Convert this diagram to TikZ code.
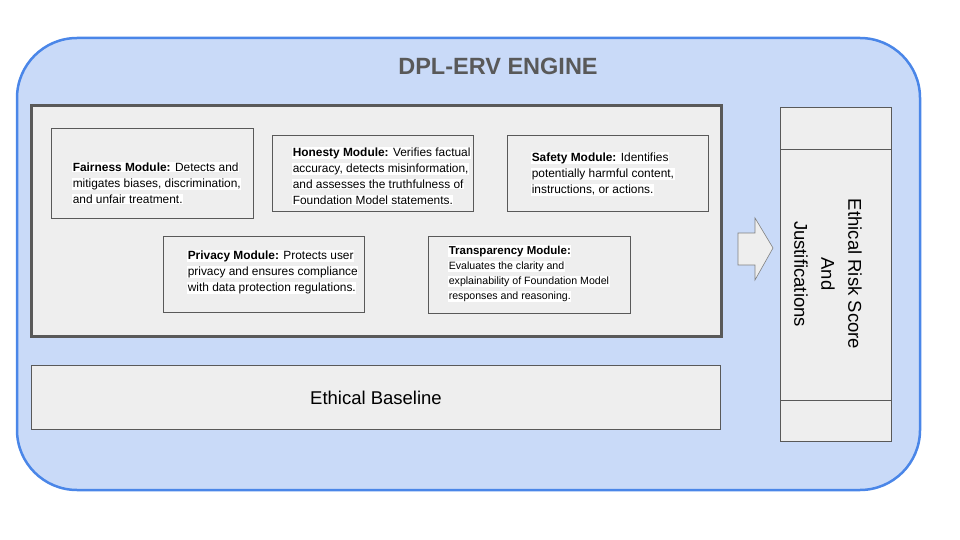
\documentclass[tikz,border=0pt]{standalone}
\usepackage{fontspec}
\setmainfont{Liberation Sans}
\usetikzlibrary{shapes.arrows}
\definecolor{outerfill}{HTML}{C9DAF8}
\definecolor{outerdraw}{HTML}{4A86E8}
\definecolor{boxfill}{HTML}{EEEEEE}
\definecolor{dgrey}{HTML}{595959}
\newcommand{\hlx}[1]{{\setlength{\fboxsep}{0.6pt}\colorbox{white}{#1}}}
\begin{document}
\begin{tikzpicture}[x=1pt,y=-1pt,
  box/.style={draw=dgrey,fill=boxfill,line width=0.8pt},
  mtext/.style={anchor=north west,inner sep=0pt,align=left,font=\fontsize{11.9}{16}\selectfont},
  ttext/.style={anchor=north west,inner sep=0pt,align=left,font=\fontsize{10.6}{15}\selectfont}]
\useasboundingbox (0,0) rectangle (960,540);
\draw[fill=outerfill,draw=outerdraw,line width=2.5pt,rounded corners=60pt] (17,38) rectangle (920,490);
\node[font=\bfseries\fontsize{23.5}{25}\selectfont,text=dgrey] (title) at (498,66) {DPL-ERV ENGINE};
\draw[fill=boxfill,draw=dgrey,line width=3pt] (31,106) rectangle (721,336);
\node[box,minimum width=202pt,minimum height=90pt,anchor=north west] (fair) at (51,128) {};
\node[box,minimum width=201pt,minimum height=76pt,anchor=north west] (hon) at (272,135) {};
\node[box,minimum width=201pt,minimum height=76pt,anchor=north west] (saf) at (507,135) {};
\node[box,minimum width=201pt,minimum height=76pt,anchor=north west] (priv) at (163,236) {};
\node[box,minimum width=202pt,minimum height=77pt,anchor=north west] (trans) at (428,236) {};
\node[mtext] (fairt) at (72,162) {\hlx{\textbf{Fairness Module:} Detects and}\\\hlx{mitigates biases, discrimination,}\\\hlx{and unfair treatment.}};
\node[mtext] (hont) at (292,147) {\hlx{\textbf{Honesty Module:} Verifies factual}\\\hlx{accuracy, detects misinformation,}\\\hlx{and assesses the truthfulness of}\\\hlx{Foundation Model statements.}};
\node[mtext] (saft) at (531,152) {\hlx{\textbf{Safety Module:} Identifies}\\\hlx{potentially harmful content,}\\\hlx{instructions, or actions.}};
\node[mtext] (privt) at (187,250) {\hlx{\textbf{Privacy Module:} Protects user}\\\hlx{privacy and ensures compliance}\\\hlx{with data protection regulations.}};
\node[ttext] (transt) at (448,245) {\hlx{\textbf{\fontsize{11.5}{15}\selectfont Transparency Module:}}\\\hlx{Evaluates the clarity and}\\\hlx{explainability of Foundation Model}\\\hlx{responses and reasoning.}};
\node[box,minimum width=689pt,minimum height=64pt,anchor=north west] (base) at (31,365) {};
\node[font=\fontsize{18.5}{20}\selectfont] (baset) at (376,398) {Ethical Baseline};
\draw[fill=boxfill,draw=gray,line width=0.6pt] (738,233) -- (755,233) -- (755,218) -- (773,248) -- (755,280) -- (755,265) -- (738,265) -- cycle;
\node[box,minimum width=111pt,minimum height=334pt,anchor=north west] (col) at (780,107) {};
\draw[draw=dgrey,line width=0.8pt] (col.north west) ++(0,42) coordinate (c1) -- ++(111,0);
\draw[draw=dgrey,line width=0.8pt] (col.north west) ++(0,293) coordinate (c2) -- ++(111,0);
\node[rotate=-90,align=center,font=\fontsize{18.5}{27}\selectfont] (colt) at (828,274) {Ethical Risk Score\\And\\Justifications};
\end{tikzpicture}
\end{document}
